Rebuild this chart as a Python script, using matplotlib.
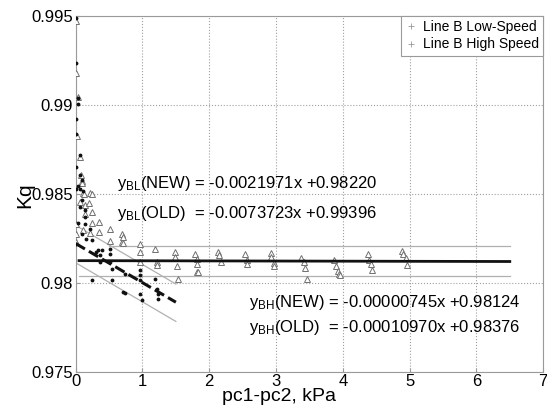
import numpy as np
import matplotlib
matplotlib.use('Agg')
import matplotlib.pyplot as plt
from matplotlib.lines import Line2D

plt.rcParams['font.family'] = ['Liberation Sans', 'DejaVu Sans']
plt.rcParams['mathtext.fontset'] = 'custom'
plt.rcParams['mathtext.rm'] = 'Liberation Sans'
plt.rcParams['mathtext.it'] = 'Liberation Sans:italic'

##Data
# Line B low-speed points
low_x = [0.00, 0.00, 0.04, 0.04, 0.00, 0.00, 0.06, 0.01, 0.06, 0.10, 0.06, 0.01, 0.11,
         0.04, 0.09, 0.06, 0.14, 0.14, 0.04, 0.14, 0.21, 0.09, 0.16, 0.24, 0.01, 0.31,
         0.39, 0.51, 0.34, 0.36, 0.36, 0.51, 0.51, 0.54, 0.24, 0.54, 0.74, 0.74, 0.96,
         0.96, 0.96, 0.96, 0.99, 1.18, 1.21, 1.23, 1.23, 0.71]
low_y = [0.99490, 0.99234, 0.99039, 0.99002, 0.98921, 0.98837, 0.98715, 0.98649, 0.98608,
         0.98579, 0.98528, 0.98528, 0.98515, 0.98541, 0.98462, 0.98425, 0.98406, 0.98372,
         0.98335, 0.98331, 0.98303, 0.98275, 0.98247, 0.98238, 0.98219, 0.98172, 0.98181,
         0.98191, 0.98181, 0.98153, 0.98116, 0.98163, 0.98116, 0.98079, 0.98017, 0.98017,
         0.98051, 0.97942, 0.98069, 0.98041, 0.98013, 0.97938, 0.97901, 0.98022, 0.97966,
         0.97938, 0.97910, 0.97947]

# Line B high-speed points
high_x = [0.00, 0.01, 0.04, 0.02, 0.06, 0.08, 0.10, 0.11, 0.22, 0.09, 0.12, 0.24, 0.06,
          0.14, 0.20, 0.24, 0.14, 0.01, 0.24, 0.11, 0.21, 0.35, 0.35, 0.01, 0.51, 0.51,
          0.69, 0.69, 0.01, 0.71, 0.71, 0.96, 0.96, 1.18, 0.96, 1.21, 1.21, 1.48, 1.48,
          1.53, 1.51, 1.78, 1.81, 1.82, 1.81, 1.83, 2.13, 2.15, 2.18, 2.53, 2.56, 2.56,
          2.93, 2.93, 2.97, 2.97, 3.37, 3.42, 3.44, 3.46, 3.87, 3.90, 3.93, 3.94, 3.96,
          4.37, 4.39, 4.42, 4.44, 4.89, 4.90, 4.94, 4.96]
high_y = [0.99470, 0.99180, 0.99041, 0.98827, 0.98704, 0.98608, 0.98569, 0.98502, 0.98502,
          0.98560, 0.98500, 0.98500, 0.98453, 0.98434, 0.98447, 0.98397, 0.98388, 0.98331,
          0.98335, 0.98294, 0.98279, 0.98340, 0.98284, 0.98275, 0.98303, 0.98232, 0.98275,
          0.98228, 0.98228, 0.98256, 0.98222, 0.98219, 0.98172, 0.98191, 0.98116, 0.98116,
          0.98097, 0.98172, 0.98144, 0.98019, 0.98093, 0.98163, 0.98135, 0.98060, 0.98107,
          0.98060, 0.98172, 0.98153, 0.98116, 0.98159, 0.98125, 0.98103, 0.98166, 0.98144,
          0.98110, 0.98092, 0.98140, 0.98116, 0.98084, 0.98022, 0.98125, 0.98092, 0.98065,
          0.98051, 0.98041, 0.98163, 0.98125, 0.98107, 0.98069, 0.98178, 0.98159, 0.98140,
          0.98097]

# fitted lines (slope, intercept) and x ranges
bl_fit = [-0.0021971, 0.98220]
bl_range = [0.0, 1.5]
bl_band = [0.00102, -0.00108]     # offsets of thin gray lines
bh_fit = [-0.00000745, 0.98124]
bh_range = [0.05, 6.5]
bh_upper = [0.5, 6.5, 0.98204]
bh_lower = [0.05, 6.5, 0.98038]

eq_text = [r'$\mathrm{y}_{\mathrm{BL}}$(NEW) = -0.0021971x +0.98220',
           r'$\mathrm{y}_{\mathrm{BL}}$(OLD)  = -0.0073723x +0.99396',
           r'$\mathrm{y}_{\mathrm{BH}}$(NEW) = -0.00000745x +0.98124',
           r'$\mathrm{y}_{\mathrm{BH}}$(OLD)  = -0.00010970x +0.98376']
eq_x = [0.62, 0.62, 2.60, 2.60]
eq_y = [0.98558, 0.98389, 0.97889, 0.97749]

xticks = [0, 1, 2, 3, 4, 5, 6, 7]
yticks = [0.975, 0.98, 0.985, 0.99, 0.995]
ytick_labels = ['0.975', '0.98', '0.985', '0.99', '0.995']

##Figure
fig = plt.figure(figsize=(5.47, 4.12), dpi=100)
ax = fig.add_axes([0.1384, 0.0978, 0.8546, 0.864])

gray = '#9a9a9a'

# thin gray band lines
xb = np.array(bl_range)
for off in bl_band:
    ax.plot(xb, bl_fit[0]*xb + bl_fit[1] + off, color='#b0b0b0', lw=0.9, zorder=2)
ax.plot(bh_upper[:2], [bh_upper[2]]*2, color='#b0b0b0', lw=0.9, zorder=2)
ax.plot(bh_lower[:2], [bh_lower[2]]*2, color='#b0b0b0', lw=0.9, zorder=2)

# points
ax.plot(high_x, high_y, ls='none', marker='^', ms=5, mfc='white', mec='#707070',
        mew=0.7, zorder=3)
ax.plot(low_x, low_y, ls='none', marker='.', ms=3.5, color='#111111', zorder=4)

# fit lines
ax.plot(xb, bl_fit[0]*xb + bl_fit[1], color='#111111', lw=2.2, ls=(0, (3.5, 1.5)), zorder=5)
xh = np.array(bh_range)
ax.plot(xh, bh_fit[0]*xh + bh_fit[1], color='#111111', lw=2.0, zorder=5)

# equations
for t, x, y in zip(eq_text, eq_x, eq_y):
    ax.text(x, y, t, fontsize=12, va='center', ha='left', zorder=6)

##Axes styling
ax.set_xlim(0, 7)
ax.set_ylim(0.975, 0.995)
ax.set_xticks(xticks)
ax.set_yticks(yticks)
ax.set_yticklabels(ytick_labels)
ax.grid(True, ls=':', color='#a0a0a0', lw=0.8)
for s in ax.spines.values():
    s.set_color(gray)
ax.tick_params(direction='in', length=3, color=gray, labelsize=12, pad=2)
ax.set_xlabel('pc1-pc2, kPa', fontsize=14)
ax.set_ylabel('Kq', fontsize=15)
ax.xaxis.set_label_coords(0.434, -0.046)
ax.yaxis.set_label_coords(-0.089, 0.496)

handles = [Line2D([], [], ls='none', marker='+', ms=4, color='#999999', mew=0.6),
           Line2D([], [], ls='none', marker='+', ms=4, color='#999999', mew=0.6)]
leg = ax.legend(handles, ['Line B Low-Speed', 'Line B High Speed'], loc='upper right',
                bbox_to_anchor=(1.0, 1.0), fontsize=10, fancybox=False, framealpha=1,
                edgecolor=gray, handlelength=0.8, handletextpad=0.5, borderpad=0.3,
                labelspacing=0.25, borderaxespad=0.0)
leg.get_frame().set_linewidth(0.8)

fig.savefig('out.png', dpi=100)
